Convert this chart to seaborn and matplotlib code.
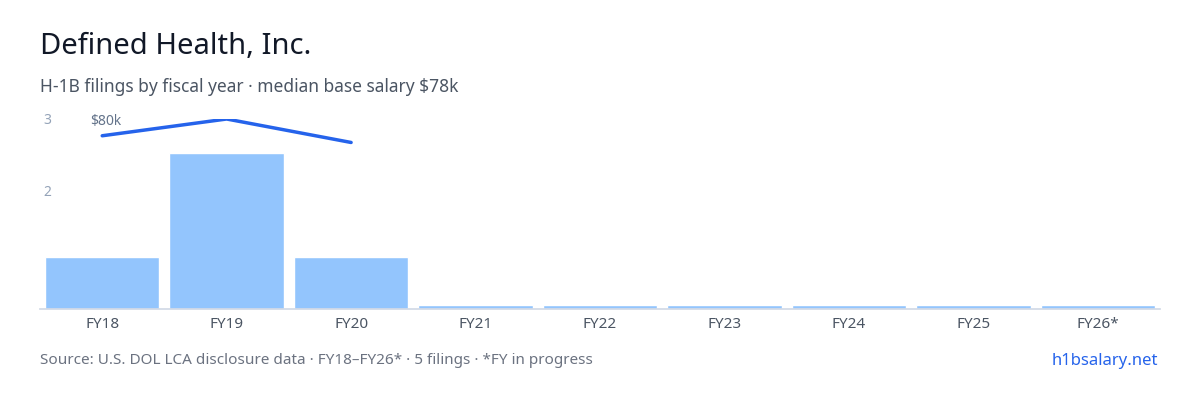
import matplotlib
matplotlib.use("Agg")

import matplotlib.pyplot as plt
import seaborn as sns

years = ["FY18", "FY19", "FY20", "FY21", "FY22", "FY23", "FY24", "FY25", "FY26*"]
filings = [1, 3, 1, 0, 0, 0, 0, 0, 0]
salary_years = ["FY18", "FY19", "FY20"]
salary = [78500, 80000, 77900]

sns.set_theme(style="white")
plt.rcParams["font.family"] = ["Noto Sans", "DejaVu Sans"]

fig = plt.figure(figsize=(12, 4), dpi=100)
ax = fig.add_axes([40 / 1200, 91 / 400, 1120 / 1200, 190 / 400])

# empty years get a thin placeholder bar
shown = [max(v, 0.08) for v in filings]
sns.barplot(x=years, y=shown, color="#93c5fd", width=0.92, saturation=1, ax=ax)
ax.set_ylim(0, 3.65)
ax.set_xlim(-0.5, len(years) - 0.5)
for s in ["top", "left", "right"]:
    ax.spines[s].set_visible(False)
ax.spines["bottom"].set_color("#d1d9e6")
ax.tick_params(axis="x", length=0, labelsize=11, labelcolor="#4b5563", pad=6)
ax.yaxis.tick_right()
ax.set_yticks([2.27, 3.65])
ax.set_yticklabels(["2", "3"])
ax.tick_params(axis="y", length=0, labelsize=10, labelcolor="#94a3b8", pad=-8)

ax2 = ax.twinx()
ax2.yaxis.tick_left()
ax2.plot([years.index(y) for y in salary_years], salary, color="#2563eb", lw=2.5)
ax2.set_ylim(63000, 80000)
ax2.set_yticks([69000, 72500, 76000, 80000])
ax2.set_yticklabels(["", "", "", "$80k"])
ax2.tick_params(axis="y", length=0, labelsize=10, labelcolor="#64748b", pad=0)
for lab in ax2.get_yticklabels():
    lab.set_horizontalalignment("left")
    lab.set_x(0)
ax2.tick_params(axis="y", direction="in")
ax2.yaxis.set_tick_params(pad=-36)
for s in ax2.spines.values():
    s.set_visible(False)

fig.text(40 / 1200, 1 - 47 / 400, "Defined Health, Inc.", fontsize=21, color="#111827", va="center")
fig.text(40 / 1200, 1 - 87 / 400, "H-1B filings by fiscal year · median base salary $78k",
         fontsize=12.5, color="#4b5563", va="center")
fig.text(40 / 1200, 1 - 361 / 400, "Source: U.S. DOL LCA disclosure data · FY18–FY26* · 5 filings · *FY in progress",
         fontsize=11, color="#6b7280", va="center")
fig.text(1158 / 1200, 1 - 361 / 400, "h1bsalary.net", fontsize=12, color="#2563eb", va="center", ha="right")

fig.savefig("out.png", dpi=100)
